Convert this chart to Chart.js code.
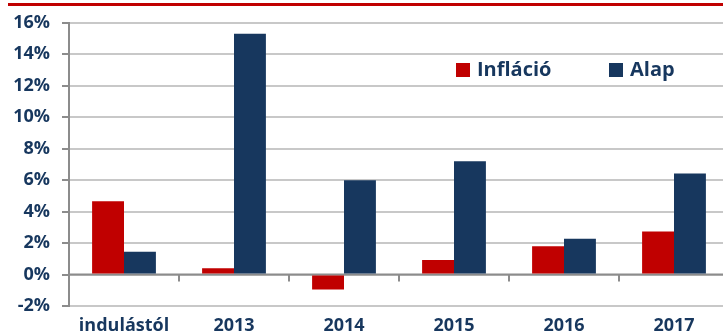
<!DOCTYPE html>
<html>
<head>
<meta charset="utf-8">
<script src="https://cdn.jsdelivr.net/npm/chart.js@4/dist/chart.umd.min.js"></script>
<style>
  html, body { margin: 0; padding: 0; background: #fff; overflow: hidden; }
  #wrap { position: relative; width: 729px; height: 333px; }
  #topline { position: absolute; left: 8px; top: 3px; width: 715px; height: 3px; background: #c00000; }
  .leg { position: absolute; font: bold 20px "Open Sans", sans-serif; color: #17375e; line-height: 20px; white-space: nowrap; }
  .leg i { position: absolute; left: 0; top: 4px; width: 14px; height: 14px; }
  .leg span { position: absolute; left: 21px; top: 0; }
</style>
</head>
<body>
<div id="wrap">
  <div id="topline"></div>
  <canvas id="grafico" width="729" height="333"></canvas>
  <div id="legenda"></div>
</div>
<script>
// adatok
const kategoriak = ['indulástól', '2013', '2014', '2015', '2016', '2017'];
const inflacio = [4.65, 0.4, -0.95, 0.93, 1.8, 2.73];
const alap = [1.45, 15.3, 6.0, 7.2, 2.27, 6.42];
const sorozatNevek = ['Infláció', 'Alap'];
const yTickek = [-2, 0, 2, 4, 6, 8, 10, 12, 14, 16];

const piros = '#c00000';
const kek = '#17375e';
const szovegSzin = '#17375e';

// jelmagyarázat a rajzterületen belül
const legendaPoz = [{ left: 456, top: 59 }, { left: 609, top: 59 }];
const legenda = document.getElementById('legenda');
[piros, kek].forEach((szin, i) => {
    const el = document.createElement('div');
    el.className = 'leg';
    el.style.left = legendaPoz[i].left + 'px';
    el.style.top = legendaPoz[i].top + 'px';
    el.innerHTML = `<i style="background:${szin}"></i><span>${sorozatNevek[i]}</span>`;
    legenda.appendChild(el);
});

// kis osztásjelek a 0%-os vonalon a kategóriák között
const nullaVonalPlugin = {
    id: 'nullaVonal',
    beforeDatasetsDraw(chart) {
        const { ctx, scales: { x, y } } = chart;
        const y0 = y.getPixelForValue(0);
        ctx.save();
        ctx.strokeStyle = '#8c8c8c';
        ctx.lineWidth = 2;
        ctx.beginPath();
        ctx.moveTo(chart.chartArea.left, y0);
        ctx.lineTo(chart.chartArea.right, y0);
        for (let i = 0; i < kategoriak.length - 1; i++) {
            const bx = Math.round((x.getPixelForValue(i) + x.getPixelForValue(i + 1)) / 2);
            ctx.moveTo(bx, y0);
            ctx.lineTo(bx, y0 + 7);
        }
        ctx.stroke();
        ctx.restore();
    }
};

const ctx = document.getElementById('grafico').getContext('2d');
new Chart(ctx, {
    type: 'bar',
    data: {
        labels: kategoriak,
        datasets: [
            { label: sorozatNevek[0], data: inflacio, backgroundColor: piros },
            { label: sorozatNevek[1], data: alap, backgroundColor: kek }
        ]
    },
    options: {
        responsive: false,
        animation: false,
        devicePixelRatio: 1,
        layout: { padding: { top: 22, right: 0, bottom: 0, left: 0 } },
        datasets: { bar: { categoryPercentage: 0.58, barPercentage: 1 } },
        plugins: { legend: { display: false }, tooltip: { enabled: false } },
        scales: {
            x: {
                grid: { display: false, drawTicks: false },
                border: { display: false },
                ticks: {
                    color: szovegSzin,
                    padding: 9,
                    maxRotation: 0,
                    font: { family: 'Open Sans', size: 18, weight: 'bold' }
                },
                afterFit: s => { s.height = 27; }
            },
            y: {
                min: -2,
                max: 16,
                afterBuildTicks: s => { s.ticks = yTickek.map(v => ({ value: v })); },
                grid: {
                    color: '#c8c8c8',
                    lineWidth: 2,
                    tickColor: '#8c8c8c',
                    tickLength: 7
                },
                border: { color: '#8c8c8c', width: 2 },
                ticks: {
                    color: szovegSzin,
                    padding: 12,
                    font: { family: 'Open Sans', size: 18, weight: 'bold' },
                    callback: v => v + '%'
                },
                afterFit: s => { s.width = 69; }
            }
        }
    },
    plugins: [nullaVonalPlugin]
});
</script>
</body>
</html>
